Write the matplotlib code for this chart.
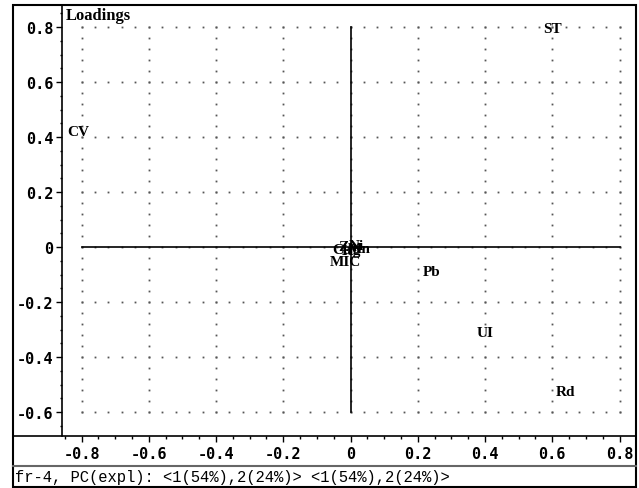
import numpy as np
import matplotlib
matplotlib.use("Agg")
import matplotlib.pyplot as plt
from matplotlib.lines import Line2D
from matplotlib.patches import Rectangle

# ---- data (PC1, PC2 loadings) ----
labels = ["ST", "CV", "Pb", "UI", "Rd", "MIC", "Cu", "Zn", "Hg", "Ni", "Mn"]
pc1 = [0.60, -0.81, 0.24, 0.40, 0.64, -0.016, -0.026, -0.010, 0.004, 0.016, 0.026]
pc2 = [0.795, 0.42, -0.09, -0.31, -0.525, -0.054, -0.008, 0.002, -0.012, 0.004, -0.004]

xticks = [-0.8, -0.6, -0.4, -0.2, 0, 0.2, 0.4, 0.6, 0.8]
yticks = [-0.6, -0.4, -0.2, 0, 0.2, 0.4, 0.6, 0.8]
xticklabels = ["-0.8", "-0.6", "-0.4", "-0.2", "0", "0.2", "0.4", "0.6", "0.8"]
yticklabels = ["-0.6", "-0.4", "-0.2", "0", "0.2", "0.4", "0.6", "0.8"]
title = "Loadings"
footer = "fr-4, PC(expl): <1(54%),2(24%)> <1(54%),2(24%)>"

W, H = 639, 489
fig = plt.figure(figsize=(W / 100, H / 100), dpi=100)

def fx(px):
    return px / W

def fy(py):
    return 1 - py / H

ax_l, ax_r, ax_t, ax_b = 62, 634, 6, 437
ax = fig.add_axes([fx(ax_l), fy(ax_b), (ax_r - ax_l) / W, (ax_b - ax_t) / H])
ax.set_xlim(-0.858, 0.843)
ax.set_ylim(-0.687, 0.88)

for s in ["top", "right", "bottom"]:
    ax.spines[s].set_visible(False)
ax.spines["left"].set_linewidth(1.2)

mono_b = dict(family="DejaVu Sans Mono", weight="bold", size=11)

ax.set_xticks(xticks)
ax.set_xticklabels(xticklabels, fontdict=mono_b)
ax.set_yticks(yticks)
ax.set_yticklabels(yticklabels, fontdict=mono_b)
ax.set_xticks(np.arange(-0.85, 0.85, 0.05), minor=True)
ax.set_yticks(np.arange(-0.65, 0.86, 0.05), minor=True)
ax.tick_params(axis="x", which="major", direction="out", length=4.5, width=1, pad=3)
ax.tick_params(axis="x", which="minor", direction="out", length=2.2, width=1)
ax.tick_params(axis="y", which="major", direction="out", length=4, width=1, pad=2)
ax.tick_params(axis="y", which="minor", direction="out", length=1.8, width=1)

# dotted grid
dot_step = 0.04
gx = np.arange(xticks[0], xticks[-1] + 1e-9, dot_step)
gy = np.arange(yticks[0], yticks[-1] + 1e-9, dot_step)
for yv in yticks:
    ax.plot(gx, np.full_like(gx, yv), linestyle="none", marker="s", ms=1.3,
            color="#555555", mew=0, zorder=1)
for xv in xticks:
    ax.plot(np.full_like(gy, xv), gy, linestyle="none", marker="s", ms=1.3,
            color="#555555", mew=0, zorder=1)

# origin axes
ax.plot([xticks[0], xticks[-1]], [0, 0], color="black", lw=1.2, zorder=2)
ax.plot([0, 0], [yticks[0], yticks[-1]], color="black", lw=1.2, zorder=2)

lab_font = dict(family="Liberation Serif", weight="bold", size=11)
for lab, x, y in zip(labels, pc1, pc2):
    ax.text(x, y, lab, ha="center", va="center", zorder=3, **lab_font)

ax.text(0.007, 0.995, title, transform=ax.transAxes, ha="left", va="top",
        family="Liberation Serif", weight="bold", size=12)

# outer frame and separators
fl, fr, ft, fb = 13, 636, 6, 488
fig.patches.append(Rectangle((fx(fl), fy(fb)), (fr - fl) / W, (fb - ft) / H,
                             transform=fig.transFigure, fill=False,
                             edgecolor="black", lw=1.5))
fig.lines.append(Line2D([fx(fl), fx(fr)], [fy(ax_b), fy(ax_b)],
                        transform=fig.transFigure, color="black", lw=1.2))
fig.lines.append(Line2D([fx(fl), fx(fr)], [fy(467), fy(467)],
                        transform=fig.transFigure, color="#666666", lw=1.5))

fig.text(fx(15), fy(478), footer, ha="left", va="center",
         family="Liberation Mono", size=11.2)

fig.savefig("out.png", dpi=100)
